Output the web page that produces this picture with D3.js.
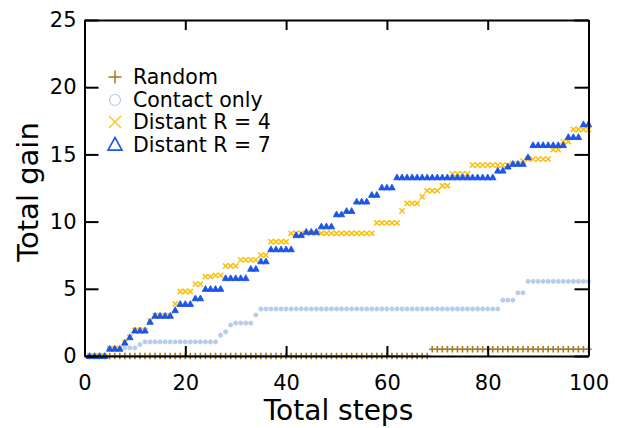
<!DOCTYPE html>
<html><head><meta charset="utf-8">
<script src="https://cdn.jsdelivr.net/npm/d3@7"></script>
<style>body{margin:0;background:#fff}svg{display:block}text{font-family:"DejaVu Sans",sans-serif}</style>
</head><body>
<script>
// ---- data (steps 1..100) ----
const steps = d3.range(1, 101);
const seriesNames = ["Random", "Contact only", "Distant R = 4", "Distant R = 7"];
const randomGain = [
 0,0,0,0,0,0,0,0,0,0, 0,0,0,0,0,0,0,0,0,0, 0,0,0,0,0,0,0,0,0,0,
 0,0,0,0,0,0,0,0,0,0, 0,0,0,0,0,0,0,0,0,0, 0,0,0,0,0,0,0,0,0,0,
 0,0,0,0,0,0,0,0,
 0.5,0.5,0.5,0.5,0.5,0.5,0.5,0.5,0.5,0.5,0.5,0.5,0.5,0.5,0.5,0.5,
 0.5,0.5,0.5,0.5,0.5,0.5,0.5,0.5,0.5,0.5,0.5,0.5,0.5,0.5,0.5,0.5];
const contactGain = [
 0,0,0,0, 0.55,0.55,0.55, 0.6,0.6,0.6, 0.85,
 1.05,1.05,1.05,1.05,1.05,1.05,1.05,1.05,1.05,1.05,1.05,1.05,1.05,1.05,1.05,
 1.55, 1.8, 2.3, 2.45,2.45,2.45,2.45, 3.05,
 3.5,3.5,3.5,3.5,3.5,3.5,3.5,3.5,3.5,3.5,3.5,3.5,3.5,3.5,3.5,3.5,
 3.5,3.5,3.5,3.5,3.5,3.5,3.5,3.5,3.5,3.5,3.5,3.5,3.5,3.5,3.5,3.5,
 3.5,3.5,3.5,3.5,3.5,3.5,3.5,3.5,3.5,3.5,3.5,3.5,3.5,3.5,3.5,3.5,
 4.15,4.15,4.15, 4.7,4.7,
 5.55,5.55,5.55,5.55,5.55,5.55,5.55,5.55,5.55,5.55,5.55,5.55,5.55];
const distant4Gain = [
 0,0,0,0, 0.55,0.55,0.55, 1.0, 1.4, 1.9,1.9,1.9, 2.6, 3.0,3.0,3.0,3.0, 3.87,
 4.8,4.8,4.8, 5.35,5.35, 5.9,5.9, 6.0,6.0, 6.7,6.7,6.7, 7.15,7.15,7.15,7.15,
 7.5,7.5, 8.5,8.5,8.5,8.5,
 9.13,9.13,9.13,9.13,9.13,9.13,9.13,9.13,9.13,9.13,9.13,9.13,9.13,9.13,9.13,9.13,9.13,
 9.9,9.9,9.9,9.9,9.9, 10.8, 11.35,11.35,11.35, 11.85, 12.3,12.3,12.3, 12.67,12.67,
 13.55,13.55,13.55,13.55, 14.2,14.2,14.2,14.2,14.2,14.2,14.2,14.2, 14.3,14.3, 14.5,
 14.65,14.65,14.65,14.65,14.65, 15.35,15.35, 15.95,15.95, 16.85,16.85,16.85,16.85];
const distant7Gain = [
 0,0,0,0, 0.55,0.55,0.55, 1.0, 1.4, 1.9,1.9,1.9, 2.55, 3.0,3.0,3.0,3.0, 3.42,
 3.88,3.88,3.88, 4.3,4.3, 5.0,5.0,5.0,5.0, 5.8,5.8,5.8,5.8,5.8, 6.5,6.5, 7.05,7.05,
 7.95,7.95,7.95,7.95,7.95, 9.0,9.0, 9.25,9.25,9.25, 9.65,9.65,9.65, 10.55,10.55,
 10.8,10.8, 11.5,11.5,11.5, 12.0,12.0, 12.55,12.55,12.55,
 13.3,13.3,13.3,13.3,13.3,13.3,13.3,13.3,13.3,13.3,13.3,13.3,13.3,13.3,13.3,13.3,13.3,13.3,13.3,13.3,
 13.8,13.8, 14.1, 14.3,14.3,14.3, 14.8, 15.7,15.7,15.7,15.7,15.7,15.7,15.7,
 16.3,16.3,16.3, 17.25,17.25];
const xTicks = [0, 20, 40, 60, 80, 100];
const yTicks = [0, 5, 10, 15, 20, 25];

// ---- layout ----
const W = 618, H = 428;
const L = 84.5, R = 588.5, T = 20, B = 356;
const svg = d3.select("body").append("svg").attr("width", W).attr("height", H);
const x = d3.scaleLinear().domain([0, 100]).range([L, R]);
const y = d3.scaleLinear().domain([0, 25]).range([B, T]);

const colors = ["#a8761c", "#b8cbea", "#f8c21a", "#1d55e6"];

function markerPath(type, cx, cy, s) {
  if (type === 0) return `M${cx - s},${cy}H${cx + s}M${cx},${cy - s}V${cy + s}`;
  if (type === 2) return `M${cx - s},${cy - s}L${cx + s},${cy + s}M${cx - s},${cy + s}L${cx + s},${cy - s}`;
  if (type === 3) return `M${cx},${cy - s}L${cx + s},${cy + s * 0.8}L${cx - s},${cy + s * 0.8}Z`;
  return `M${cx - s},${cy}A${s},${s} 0 1,0 ${cx + s},${cy}A${s},${s} 0 1,0 ${cx - s},${cy}Z`;
}

const allSeries = [randomGain, contactGain, distant4Gain, distant7Gain];
allSeries.forEach((vals, k) => {
  const g = svg.append("g");
  const pts = steps.map((s, i) => [s, vals[i]]);
  const p = g.selectAll("path").data(pts).join("path")
    .attr("d", d => markerPath(k, x(d[0]), y(d[1]), k === 0 ? 3.2 : k === 1 ? 2.1 : k === 2 ? 2.6 : 3.2))
    .attr("stroke", colors[k]);
  if (k === 0) p.attr("fill", "none").attr("stroke-width", 1.6);
  if (k === 1) p.attr("fill", colors[k]).attr("stroke-width", 0.8);
  if (k === 2) p.attr("fill", "none").attr("stroke-width", 1.6);
  if (k === 3) p.attr("fill", colors[k]).attr("stroke-width", 0.9);
});

// ---- axes (ticks inward on all four sides) ----
const axStyle = g => {
  g.selectAll(".domain").attr("stroke", "#000").attr("stroke-width", 2);
  g.selectAll(".tick line").attr("stroke", "#000").attr("stroke-width", 2);
  g.selectAll("text").attr("fill", "#000").style("font-family", "DejaVu Sans").attr("font-size", 21);
};
svg.append("g").attr("transform", `translate(0,${B})`)
  .call(d3.axisBottom(x).tickValues(xTicks).tickSize(-10).tickSizeOuter(0).tickPadding(19))
  .call(axStyle);
svg.append("g").attr("transform", `translate(0,${T})`)
  .call(d3.axisTop(x).tickValues(xTicks).tickSize(-10).tickSizeOuter(0).tickFormat(""))
  .call(axStyle);
svg.append("g").attr("transform", `translate(${L},0)`)
  .call(d3.axisLeft(y).tickValues(yTicks).tickSize(-14).tickSizeOuter(0).tickPadding(8))
  .call(axStyle);
svg.append("g").attr("transform", `translate(${R},0)`)
  .call(d3.axisRight(y).tickValues(yTicks).tickSize(-14).tickSizeOuter(0).tickFormat(""))
  .call(axStyle);

// axis titles
svg.append("text").attr("x", (L + R) / 2 + 2).attr("y", 420).attr("text-anchor", "middle")
  .attr("font-size", 28).text("Total steps");
svg.append("text").attr("transform", `translate(38,${(T + B) / 2 + 4}) rotate(-90)`)
  .attr("text-anchor", "middle").attr("font-size", 29).text("Total gain");

// ---- legend ----
const legY = [77, 100, 122, 144.5];
seriesNames.forEach((name, k) => {
  const cx = 115, cy = legY[k];
  const p = svg.append("path").attr("stroke", colors[k]).attr("fill", "none");
  if (k === 0) p.attr("d", markerPath(0, cx, cy, 6.5)).attr("stroke-width", 1.5);
  if (k === 1) p.attr("d", markerPath(1, cx, cy, 5.5)).attr("stroke-width", 1.2);
  if (k === 2) p.attr("d", markerPath(2, cx, cy, 6)).attr("stroke-width", 1.3);
  if (k === 3) p.attr("d", markerPath(3, cx, cy, 7)).attr("stroke-width", 1.6);
  svg.append("text").attr("x", 133).attr("y", cy).attr("dy", "0.36em")
    .attr("font-size", 20.5).text(name);
});
</script>
</body></html>
